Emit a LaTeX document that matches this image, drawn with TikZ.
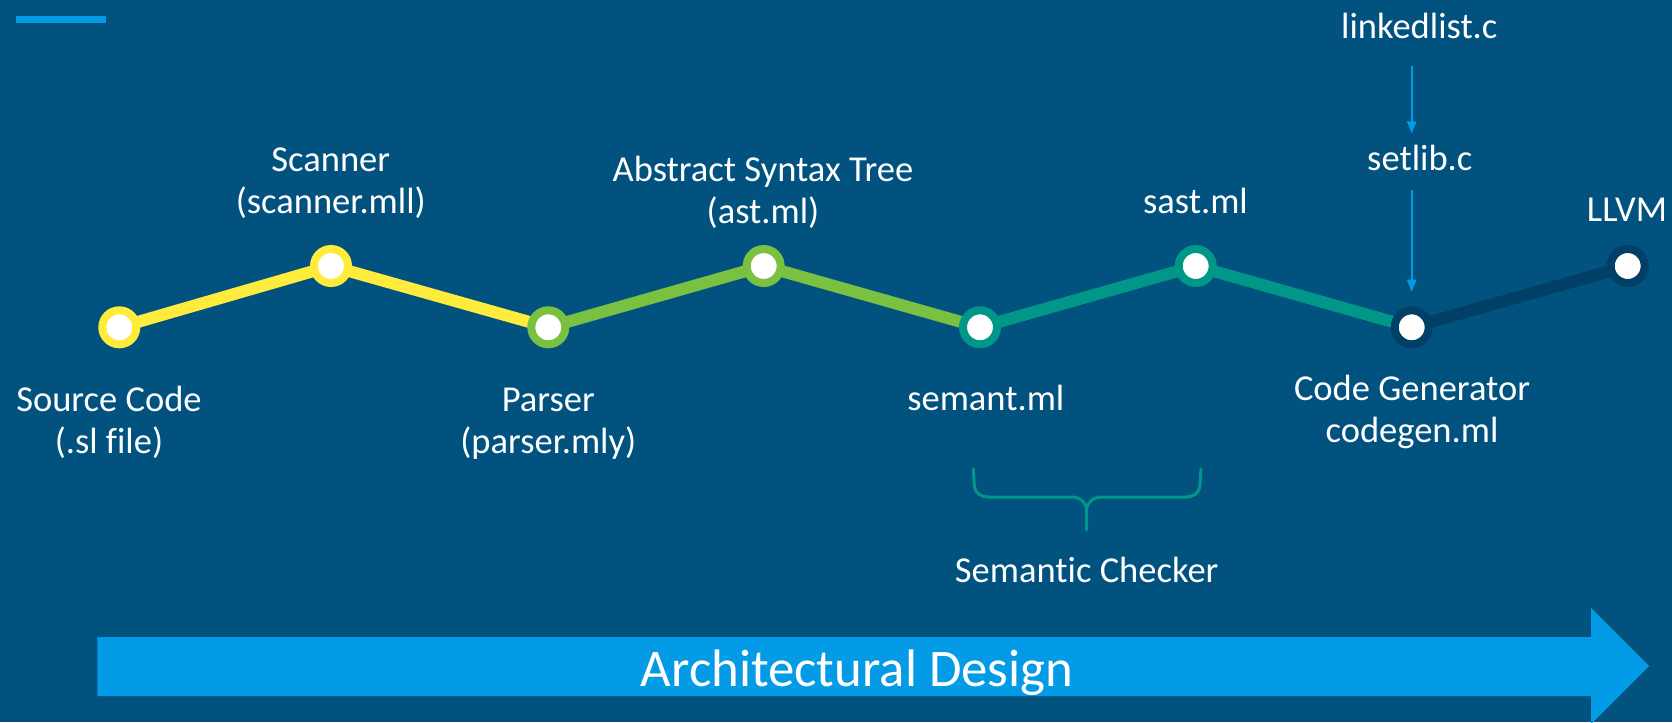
\documentclass[tikz,border=0pt]{standalone}
\usepackage{fontspec}
\setmainfont{Carlito}[Ligatures=NoCommon]
\usetikzlibrary{arrows.meta,calc}
\definecolor{bgc}{RGB}{1,82,127}
\definecolor{yel}{RGB}{255,235,59}
\definecolor{grn}{RGB}{122,193,66}
\definecolor{tea}{RGB}{0,150,136}
\definecolor{nav}{RGB}{0,63,102}
\definecolor{blu}{RGB}{3,155,229}
\pgfdeclarelayer{bg}
\pgfdeclarelayer{lines}
\pgfsetlayers{bg,lines,main}
\tikzset{
  stage/.style={circle, fill=white, draw=#1, line width=6pt, minimum size=25.5pt, inner sep=0pt},
  seg/.style={draw=#1, line width=9pt},
  lbl/.style={text=white, inner sep=0pt, anchor=base, align=center,
    font=\fontsize{27.4pt}{31.5pt}\selectfont},
  biglbl/.style={text=white, inner sep=0pt, anchor=base,
    font=\fontsize{39.6pt}{46pt}\selectfont},
  libarrow/.style={draw=blu, line width=1.5pt, -{Triangle[width=7pt,length=9pt]}},
  bracestyle/.style={draw=tea, line width=2.25pt, line cap=round}
}
\begin{document}
\begin{tikzpicture}[x=0.75pt,y=-0.75pt]
\useasboundingbox (0,0) rectangle (1672,722);
\begin{pgfonlayer}{bg}
  \fill[bgc] (0,0) rectangle (1672,722);
\end{pgfonlayer}
% top-left bar
\fill[blu] (16,16) rectangle (106,23);
% stages
\node[stage=yel] (n1) at (119.3,327.3) {};
\node[stage=yel] (n2) at (331,266) {};
\node[stage=grn] (n3) at (548.3,327.3) {};
\node[stage=grn] (n4) at (763.7,266) {};
\node[stage=tea] (n5) at (980,327.3) {};
\node[stage=tea] (n6) at (1195.7,266) {};
\node[stage=nav] (n7) at (1411.7,327.3) {};
\node[stage=nav] (n8) at (1627.7,266) {};
\begin{pgfonlayer}{lines}
  \draw[seg=yel] (n1.center) -- (n2.center) -- (n3.center);
  \draw[seg=grn] (n3.center) -- (n4.center) -- (n5.center);
  \draw[seg=tea] (n5.center) -- (n6.center) -- (n7.center);
  \draw[seg=nav] (n7.center) -- (n8.center);
\end{pgfonlayer}
% labels (base anchor = baseline of last line)
\node[lbl] (l1) at (109,453) {Source Code\\(.sl file)};
\node[lbl] (l2) at (330.8,213.7) {Scanner\\(scanner.mll)};
\node[lbl] (l3) at (548.3,453) {Parser\\(parser.mly)};
\node[lbl] (l4) at (763,223.3) {Abstract Syntax Tree\\(ast.ml)};
\node[lbl] (l5) at (985.8,410.7) {semant.ml};
\node[lbl] (l6) at (1195.5,213.5) {sast.ml};
\node[lbl] (l7) at (1412,442) {Code Generator\\codegen.ml};
\node[lbl] (l8) at (1627,221) {LLVM};
\node[lbl] (linked) at (1419.3,38.3) {linkedlist.c};
\node[lbl] (setlib) at (1419.8,170) {setlib.c};
\node[lbl] (sem) at (1086.7,582.7) {Semantic Checker};
% library arrows
\draw[libarrow] ($(n7|-linked.base)+(0,27.4)$) -- ($(n7|-setlib.base)+(0,-36.7)$);
\draw[libarrow] ($(n7|-setlib.base)+(0,20)$) -- ($(n7.center)+(0,-35.6)$);
% brace
\draw[bracestyle] (973.3,469) -- (974.5,487) to[out=-80,in=180] (988,497) -- (1072,497)
  to[out=0,in=90] (1086.7,510) -- (1086.7,530);
\draw[bracestyle] (1201,469) -- (1199.8,487) to[out=-100,in=0] (1186,497) -- (1101.4,497)
  to[out=180,in=90] (1086.7,510);
% big arrow
\fill[blu] (97.3,637) -- (1591,637) -- (1591,608) -- (1649,666) -- (1591,724) -- (1591,696) -- (97.3,696) -- cycle;
\node[biglbl] (arch) at (857,686) {Architectural Design};
\end{tikzpicture}
\end{document}
